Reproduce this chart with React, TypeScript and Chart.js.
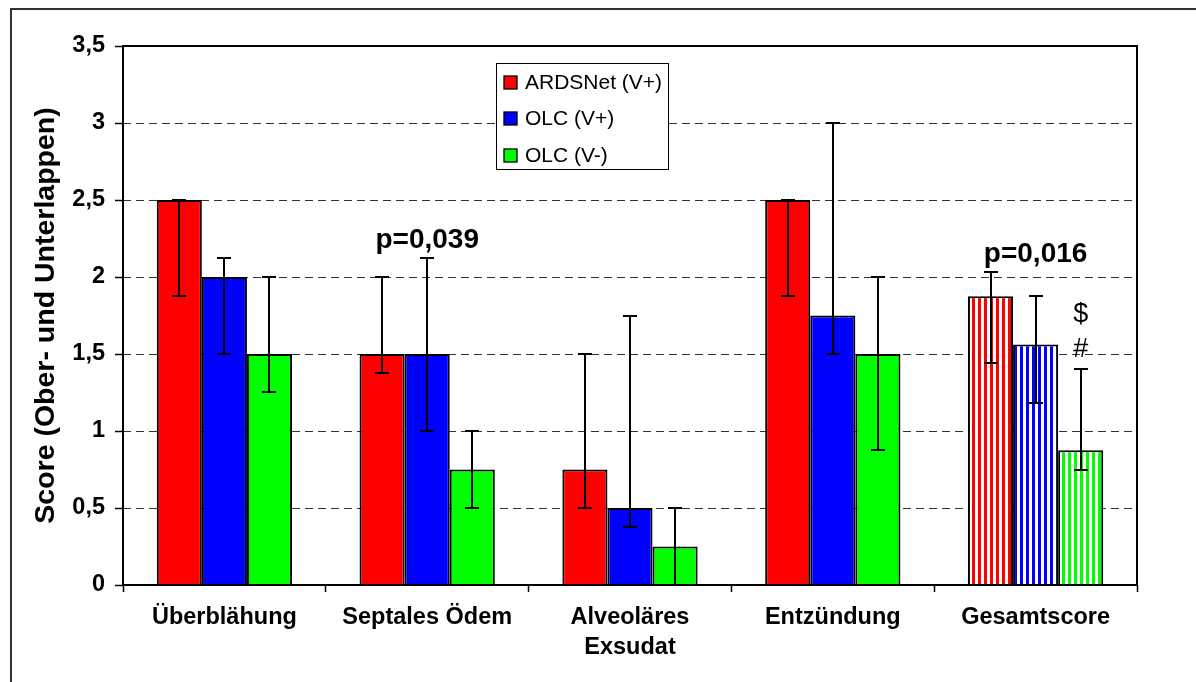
import { useEffect, useRef } from 'react';
import { Chart, registerables } from 'chart.js';

Chart.register(...registerables);

// ---------- data ----------
const categories: (string | string[])[] = [
  'Überblähung',
  'Septales Ödem',
  ['Alveoläres', 'Exsudat'],
  'Entzündung',
  'Gesamtscore',
];
const seriesNames = ['ARDSNet (V+)', 'OLC (V+)', 'OLC (V-)'];
const seriesColors = ['#FF0000', '#0000FF', '#00FF00'];

const ardsnet = [2.5, 1.5, 0.75, 2.5, 1.875];
const olcVplus = [2.0, 1.5, 0.5, 1.75, 1.5625];
const olcVminus = [1.5, 0.75, 0.25, 1.5, 0.875];

const ardsnetLow = [1.875, 1.375, 0.5, 1.875, 1.44];
const ardsnetHigh = [2.5, 2.0, 1.5, 2.5, 2.03];
const olcVplusLow = [1.5, 1.0, 0.375, 1.5, 1.18];
const olcVplusHigh = [2.125, 2.125, 1.75, 3.0, 1.875];
const olcVminusLow = [1.25, 0.5, 0, 0.875, 0.75];
const olcVminusHigh = [2.0, 1.0, 0.5, 2.0, 1.4];

// categories drawn with striped fill
const stripedCategories = [false, false, false, false, true];

const yMin = 0;
const yMax = 3.5;
const yStep = 0.5;

// text annotations: text, category index, series index (-1 = group centre), y value, bold
const annotationTexts = ['p=0,039', 'p=0,016', '$', '#'];
const annotationCategory = [1, 4, 4, 4];
const annotationSeries = [-1, -1, 2, 2];
const annotationValue = [2.19, 2.1, 1.71, 1.48];
const annotationBold = [true, true, false, false];

const yTitle = 'Score (Ober- und Unterlappen)';

// ---------- styling ----------
const FONT = "'Liberation Sans', Arial, Helvetica, sans-serif";

function makeStripe(ctx: CanvasRenderingContext2D, color: string) {
  const c = document.createElement('canvas');
  c.width = 6;
  c.height = 4;
  const g = c.getContext('2d')!;
  g.fillStyle = '#ffffff';
  g.fillRect(0, 0, 6, 4);
  g.fillStyle = color;
  g.fillRect(0, 0, 3, 4);
  return ctx.createPattern(c, 'repeat')!;
}

const errorBarPlugin = {
  id: 'errorBars',
  afterDatasetsDraw(chart: any) {
    const lows = [ardsnetLow, olcVplusLow, olcVminusLow];
    const highs = [ardsnetHigh, olcVplusHigh, olcVminusHigh];
    const ctx = chart.ctx as CanvasRenderingContext2D;
    const ys = chart.scales.y;
    ctx.save();
    ctx.strokeStyle = '#000';
    ctx.lineWidth = 2;
    chart.data.datasets.forEach((_ds: any, di: number) => {
      const meta = chart.getDatasetMeta(di);
      meta.data.forEach((bar: any, i: number) => {
        const x = Math.round(bar.x);
        const yl = Math.round(ys.getPixelForValue(lows[di][i]));
        const yh = Math.round(ys.getPixelForValue(highs[di][i]));
        ctx.beginPath();
        ctx.moveTo(x, yl);
        ctx.lineTo(x, yh);
        ctx.moveTo(x - 7, yl);
        ctx.lineTo(x + 7, yl);
        ctx.moveTo(x - 7, yh);
        ctx.lineTo(x + 7, yh);
        ctx.stroke();
      });
    });
    ctx.restore();
  },
};

const framePlugin = {
  id: 'frame',
  afterDatasetsDraw(chart: any) {
    const { ctx, chartArea } = chart;
    ctx.save();
    ctx.strokeStyle = '#000';
    ctx.lineWidth = 2;
    ctx.strokeRect(chartArea.left, chartArea.top, chartArea.right - chartArea.left, chartArea.bottom - chartArea.top);
    ctx.restore();
  },
};

const annotationPlugin = {
  id: 'annotations',
  afterDatasetsDraw(chart: any) {
    const ctx = chart.ctx as CanvasRenderingContext2D;
    const xs = chart.scales.x;
    const ys = chart.scales.y;
    ctx.save();
    ctx.fillStyle = '#000';
    ctx.textAlign = 'center';
    ctx.textBaseline = 'alphabetic';
    annotationTexts.forEach((t, k) => {
      let x: number;
      if (annotationSeries[k] < 0) x = xs.getPixelForValue(annotationCategory[k]);
      else x = chart.getDatasetMeta(annotationSeries[k]).data[annotationCategory[k]].x;
      const y = ys.getPixelForValue(annotationValue[k]);
      ctx.font = `${annotationBold[k] ? 'bold ' : ''}${annotationBold[k] ? 28 : 27}px ${FONT}`;
      ctx.fillText(t, x, y);
    });
    ctx.restore();
  },
};

const legendPlugin = {
  id: 'boxLegend',
  afterDraw(chart: any) {
    const ctx = chart.ctx as CanvasRenderingContext2D;
    const bx = 496, by = 63, bw = 172, bh = 106;
    ctx.save();
    ctx.fillStyle = '#fff';
    ctx.fillRect(bx, by, bw, bh);
    ctx.strokeStyle = '#000';
    ctx.lineWidth = 1;
    ctx.strokeRect(bx + 0.5, by + 0.5, bw, bh);
    ctx.font = `21px ${FONT}`;
    ctx.textBaseline = 'middle';
    ctx.textAlign = 'left';
    chart.data.datasets.forEach((ds: any, i: number) => {
      const cy = by + 19 + i * 36.7;
      ctx.fillStyle = seriesColors[i];
      ctx.fillRect(504, Math.round(cy - 6.5), 13, 13);
      ctx.strokeStyle = '#000';
      ctx.lineWidth = 1.3;
      ctx.strokeRect(504, Math.round(cy - 6.5), 13, 13);
      ctx.fillStyle = '#000';
      ctx.fillText(ds.label, 525, cy + 1);
    });
    ctx.restore();
  },
};

export default function App() {
  const canvasRef = useRef<HTMLCanvasElement | null>(null);

  useEffect(() => {
    document.body.style.margin = '0';
    const canvas = canvasRef.current!;
    const ctx = canvas.getContext('2d')!;
    const values = [ardsnet, olcVplus, olcVminus];
    const datasets = values.map((vals, si) => ({
      label: seriesNames[si],
      data: vals,
      backgroundColor: vals.map((_v, ci) =>
        stripedCategories[ci] ? makeStripe(ctx, seriesColors[si]) : seriesColors[si]
      ),
      borderColor: '#000',
      borderWidth: 2,
      categoryPercentage: 0.667,
      barPercentage: 1.0,
    }));

    const chart = new Chart(canvas, {
      type: 'bar',
      data: { labels: categories as any, datasets },
      options: {
        responsive: false,
        animation: false,
        devicePixelRatio: 1,
        layout: { padding: { left: 0, top: 46, right: 59, bottom: 0 } },
        plugins: {
          legend: { display: false },
          tooltip: { enabled: false },
        },
        scales: {
          x: {
            afterFit: (scale: any) => {
              scale.height = 97;
            },
            grid: {
              display: true,
              drawOnChartArea: false,
              drawTicks: true,
              tickLength: 7,
              tickColor: '#000',
              tickWidth: 1.5,
              offset: true,
            },
            border: { display: false },
            ticks: {
              color: '#000',
              padding: 10,
              maxRotation: 0,
              autoSkip: false,
              font: { family: FONT, size: 23.5, weight: 'bold', lineHeight: 1.3 },
            },
          },
          y: {
            min: yMin,
            max: yMax,
            afterFit: (scale: any) => {
              scale.width = 123;
            },
            grid: {
              color: (c: any) =>
                c.tick && (c.tick.value === yMin || c.tick.value === yMax) ? 'rgba(0,0,0,0)' : '#333',
              lineWidth: 1,
              tickLength: 8,
              tickColor: '#000',
              tickWidth: 1.5,
            },
            border: { display: false, dash: [8, 5] },
            ticks: {
              stepSize: yStep,
              color: '#000',
              padding: 10,
              font: { family: FONT, size: 23.5, weight: 'bold' },
              callback: (v: any) => String(v).replace('.', ','),
            },
            title: {
              display: true,
              text: yTitle,
              color: '#000',
              font: { family: FONT, size: 28.5, weight: 'bold' },
              padding: { top: 29, bottom: 0 },
            },
          },
        },
      },
      plugins: [framePlugin, errorBarPlugin, annotationPlugin, legendPlugin],
    } as any);

    return () => chart.destroy();
  }, []);

  return (
    <div style={{ position: 'relative', width: 1196, height: 682, overflow: 'hidden', background: '#fff' }}>
      <div
        style={{
          position: 'absolute',
          left: 10,
          top: 8,
          width: 1186,
          height: 674,
          boxSizing: 'border-box',
          borderTop: '2px solid #333',
          borderLeft: '2px solid #333',
        }}
      />
      <canvas
        ref={canvasRef}
        width={1196}
        height={682}
        style={{ position: 'absolute', left: 0, top: 0, width: 1196, height: 682 }}
      />
    </div>
  );
}
